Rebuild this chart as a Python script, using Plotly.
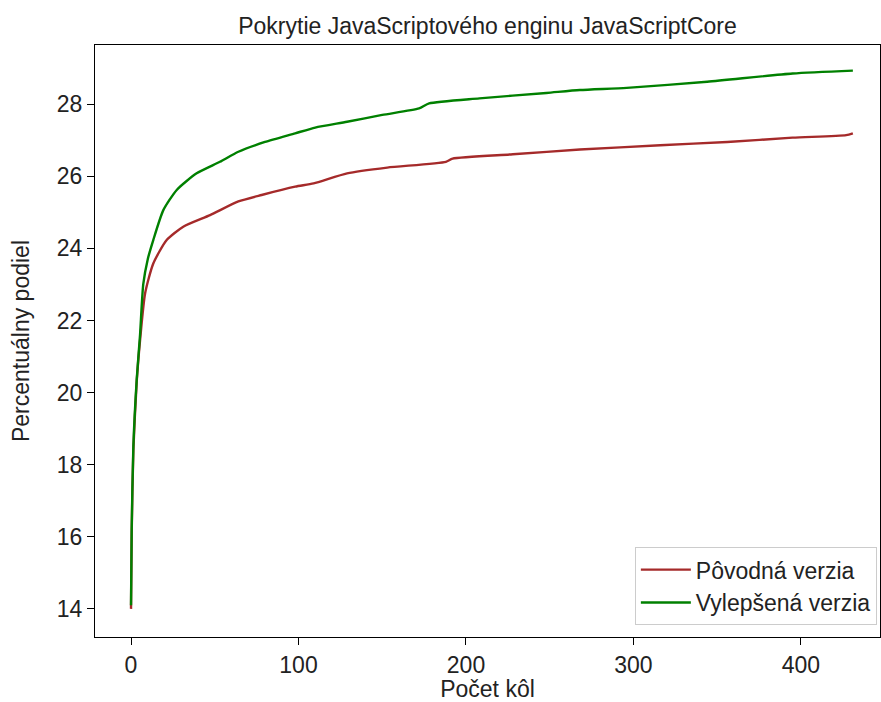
import plotly.graph_objects as go

title_text = "Pokrytie JavaScriptového enginu JavaScriptCore"
x_label = "Počet kôl"
y_label = "Percentuálny podiel"

name_orig = "Pôvodná verzia"
name_impr = "Vylepšená verzia"

x_orig = [0, 0.4, 1.4, 3.4, 5.4, 8.4, 13.3, 21.3, 31.2, 47.2, 64.1, 78, 98, 109, 129, 153, 188, 192, 228, 268, 316, 356, 395, 427, 431]
y_orig = [14.0, 16.1, 18.4, 20.3, 21.45, 22.75, 23.58, 24.23, 24.6, 24.92, 25.3, 25.48, 25.71, 25.8, 26.08, 26.24, 26.4, 26.49, 26.61, 26.74, 26.86, 26.95, 27.07, 27.14, 27.19]

x_impr = [0, 0.4, 1.4, 3.4, 5.4, 7.3, 10, 13.3, 19.3, 27.3, 39.2, 53.1, 64.1, 80, 98, 110, 129, 150, 172, 178, 208, 248, 268, 296, 344, 395, 431]
y_impr = [14.1, 16.2, 18.5, 20.35, 21.6, 23.0, 23.7, 24.23, 25.06, 25.62, 26.08, 26.4, 26.68, 26.95, 27.19, 27.35, 27.51, 27.7, 27.88, 28.02, 28.16, 28.31, 28.39, 28.45, 28.62, 28.85, 28.93]

x_ticks = [0, 100, 200, 300, 400]
y_ticks = [14, 16, 18, 20, 22, 24, 26, 28]

FONT = "Liberation Sans, Arial, sans-serif"
FS = 23
TXT = "#222"

fig = go.Figure()
fig.add_trace(go.Scatter(x=x_orig, y=y_orig, mode="lines", name=name_orig,
                         line=dict(color="#A52A2A", width=2.4, shape="spline", smoothing=0.6)))
fig.add_trace(go.Scatter(x=x_impr, y=y_impr, mode="lines", name=name_impr,
                         line=dict(color="#008000", width=2.4, shape="spline", smoothing=0.6)))

axis_common = dict(showgrid=False, zeroline=False, showline=True, linecolor="black",
                   linewidth=1.2, mirror=True, ticks="outside", ticklen=7, tickwidth=1.2,
                   tickcolor="black", tickfont=dict(family=FONT, size=FS, color=TXT),
                   automargin=False)

fig.update_layout(
    width=881, height=702,
    margin=dict(l=95, r=1, t=45, b=65),
    paper_bgcolor="white", plot_bgcolor="white",
    font=dict(family=FONT, size=FS, color=TXT),
    title=dict(text=title_text, x=0.5, xref="paper", xanchor="center",
               y=1 - 26/702, yref="container", yanchor="middle",
               font=dict(family=FONT, size=FS, color=TXT)),
    xaxis=dict(range=[-21.5, 447.2], tickvals=x_ticks,
               title=dict(text=x_label, font=dict(family=FONT, size=FS, color=TXT), standoff=8),
               **axis_common),
    yaxis=dict(range=[13.22, 29.64], tickvals=y_ticks,
               title=dict(text=y_label, font=dict(family=FONT, size=FS, color=TXT), standoff=20),
               **axis_common),
    legend=dict(x=0.996, y=0.02, xanchor="right", yanchor="bottom",
                bgcolor="rgba(255,255,255,0.9)", bordercolor="#cccccc", borderwidth=1,
                font=dict(family=FONT, size=FS, color=TXT), tracegroupgap=2,
                itemwidth=50),
    showlegend=True,
)

fig.write_html("out.html")
